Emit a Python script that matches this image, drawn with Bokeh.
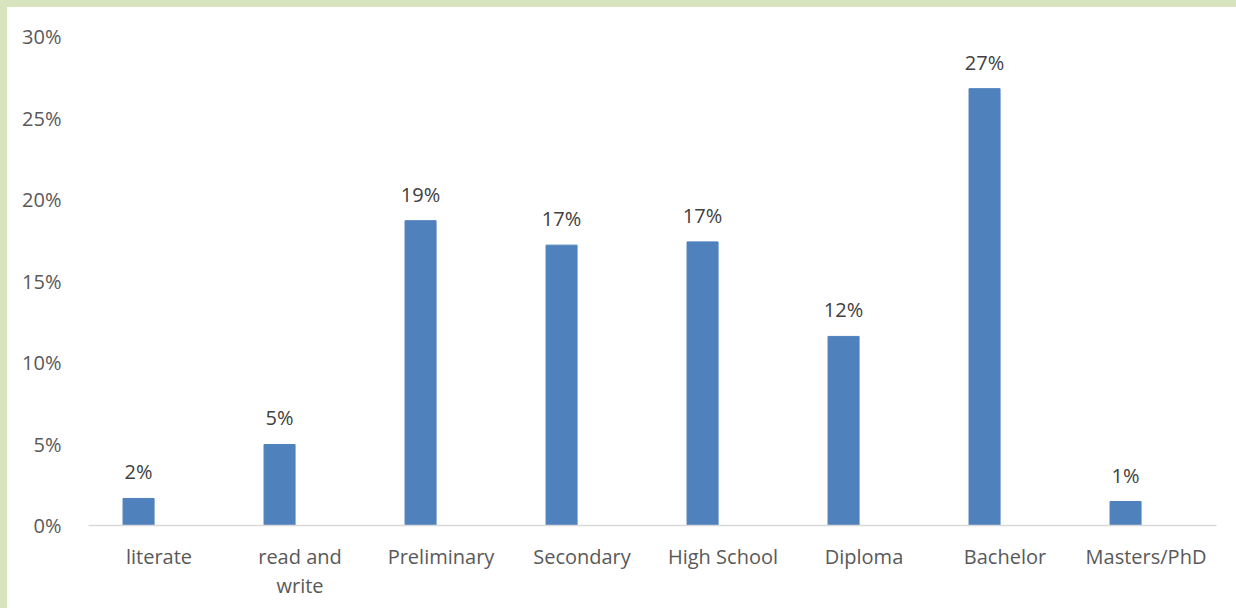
from bokeh.plotting import figure
from bokeh.models import ColumnDataSource, Range1d, FixedTicker, NumeralTickFormatter
from bokeh.layouts import column
from bokeh.core.properties import value
from bokeh.embed import file_html
from bokeh.resources import INLINE

categories = ["literate", "read and\nwrite", "Preliminary", "Secondary", "High School", "Diploma", "Bachelor", "Masters/PhD"]
shares = [0.0166, 0.0497, 0.187, 0.172, 0.174, 0.116, 0.268, 0.0147]
labels = ["2%", "5%", "19%", "17%", "17%", "12%", "27%", "1%"]
y_ticks = [0, 0.05, 0.10, 0.15, 0.20, 0.25, 0.30]

FONT = "Open Sans"
BAR_SHIFT = -0.145
positions = list(range(len(categories)))
bar_x = [i + BAR_SHIFT for i in positions]
src = ColumnDataSource(dict(x=bar_x, y=shares, lab=labels))

p = figure(frame_width=1128, frame_height=489, output_backend="svg", toolbar_location=None,
           x_range=Range1d(-0.5, 7.5), y_range=Range1d(0, 0.30),
           min_border_left=81, min_border_right=20, min_border_top=29, min_border_bottom=83,
           styles={"background-color": "white"})
p.outline_line_color = None
p.background_fill_color = "white"
p.border_fill_color = "white"
p.xgrid.visible = False
p.ygrid.visible = False

p.vbar(x="x", top="y", width=0.22, source=src, fill_color="#4f81bd", line_color="#4f81bd")
p.text(x="x", y="y", text="lab", source=src, text_align="center", text_baseline="bottom",
       y_offset=-13, text_font=value(FONT), text_font_size="20px", text_color="#404040")

p.xaxis.ticker = FixedTicker(ticks=positions)
p.xaxis.major_label_overrides = {i: c for i, c in enumerate(categories)}
p.xaxis.major_tick_line_color = None
p.xaxis.minor_tick_line_color = None
p.xaxis.axis_line_color = "#d9d9d9"
p.xaxis.axis_line_width = 1.5
p.xaxis.major_label_text_font = FONT
p.xaxis.major_label_text_font_size = "20px"
p.xaxis.major_label_text_color = "#595959"
p.xaxis.major_label_text_line_height = 1.1
p.xaxis.major_label_standoff = 11

p.yaxis.ticker = FixedTicker(ticks=y_ticks)
p.yaxis.formatter = NumeralTickFormatter(format="0%")
p.yaxis.axis_line_color = None
p.yaxis.major_tick_line_color = None
p.yaxis.minor_tick_line_color = None
p.yaxis.major_label_text_font = FONT
p.yaxis.major_label_text_font_size = "20px"
p.yaxis.major_label_text_color = "#595959"
p.yaxis.major_label_standoff = 21

layout = column(p, width=1236, height=608,
                styles={"background-color": "#d7e4bd", "padding-left": "7px", "padding-top": "7px",
                        "box-sizing": "border-box"})

open("out.html", "w").write(file_html(layout, INLINE))
